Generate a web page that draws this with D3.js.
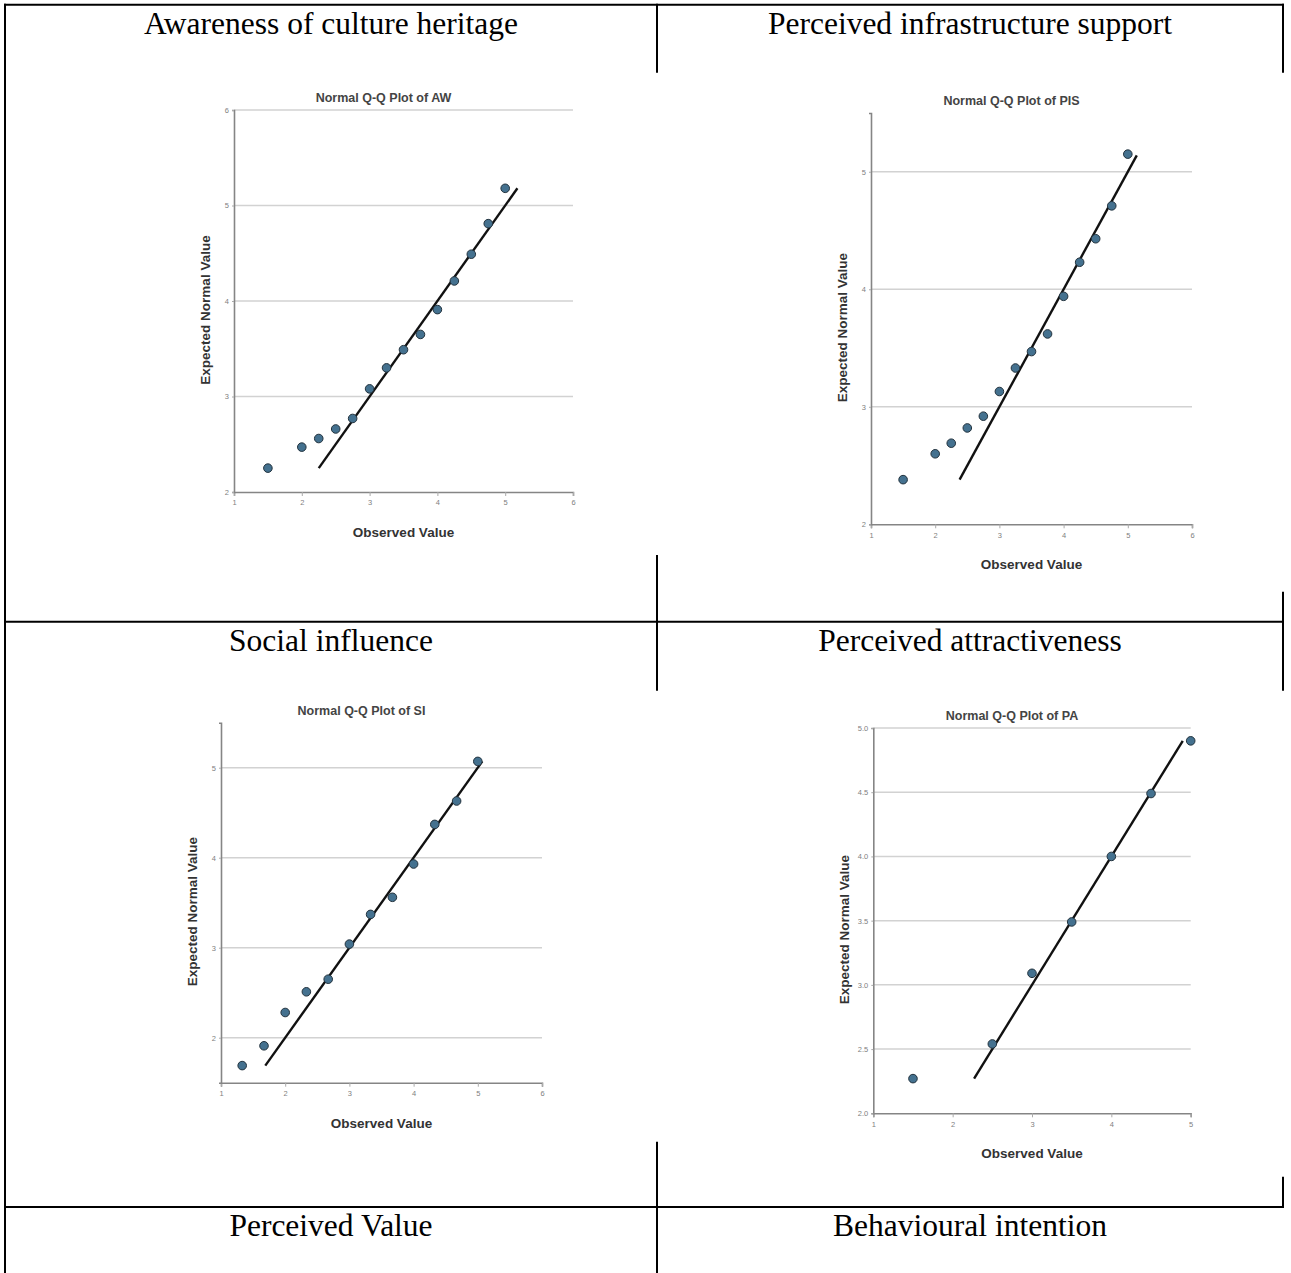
<!DOCTYPE html>
<html>
<head>
<meta charset="utf-8">
<script src="https://cdn.jsdelivr.net/npm/d3@7"></script>
<style>
  body { margin: 0; background: #fff; }
  svg { display: block; }
</style>
</head>
<body>
<svg id="page" width="1291" height="1273"></svg>
<script>
// cell titles of the table
var cellTitles = ["Awareness of culture heritage", "Perceived infrastructure support",
                  "Social influence", "Perceived attractiveness",
                  "Perceived Value", "Behavioural intention"];

// Q-Q data
var awObserved = [1.5, 2, 2.25, 2.5, 2.75, 3, 3.25, 3.5, 3.75, 4, 4.25, 4.5, 4.75, 5];
var awExpected = [2.25, 2.47, 2.56, 2.66, 2.77, 3.08, 3.30, 3.49, 3.65, 3.91, 4.21, 4.49, 4.81, 5.18];
var awLine = [2.25, 5.18];

var pisObserved = [1.5, 2, 2.25, 2.5, 2.75, 3, 3.25, 3.5, 3.75, 4, 4.25, 4.5, 4.75, 5];
var pisExpected = [2.38, 2.60, 2.69, 2.82, 2.92, 3.13, 3.33, 3.47, 3.62, 3.94, 4.23, 4.43, 4.71, 5.15];
var pisLine = [2.38, 5.14];

var siObserved = [1.33, 1.67, 2, 2.33, 2.67, 3, 3.33, 3.67, 4, 4.33, 4.67, 5];
var siExpected = [1.69, 1.91, 2.28, 2.51, 2.65, 3.04, 3.37, 3.56, 3.93, 4.37, 4.63, 5.07];
var siLine = [1.69, 5.07];

var paObserved = [1.5, 2.5, 3, 3.5, 4, 4.5, 5];
var paExpected = [2.27, 2.54, 3.09, 3.49, 4.00, 4.49, 4.90];
var paLine = [2.27, 4.90];

var awXTicks = [1, 2, 3, 4, 5, 6], awYTicks = [2, 3, 4, 5, 6];
var pisXTicks = [1, 2, 3, 4, 5, 6], pisYTicks = [2, 3, 4, 5];
var siXTicks = [1, 2, 3, 4, 5, 6], siYTicks = [2, 3, 4, 5];
var paXTicks = [1, 2, 3, 4, 5], paYTicks = [2, 2.5, 3, 3.5, 4, 4.5, 5];

var svg = d3.select('#page');

// table grid lines
var lineW = 2;
function hline(x1, x2, y) {
    svg.append("line").attr("x1", x1).attr("x2", x2).attr("y1", y).attr("y2", y)
        .attr("stroke", "#000").attr("stroke-width", lineW);
}
function vline(x, y1, y2) {
    svg.append("line").attr("x1", x).attr("x2", x).attr("y1", y1).attr("y2", y2)
        .attr("stroke", "#000").attr("stroke-width", lineW);
}
var L = 5, M = 657, R = 1283;
var rows = [4.7, 621.7, 1207];
rows.forEach(function(y) { hline(L - 1, R + 1, y); });
vline(L, 3.7, 1273);
vline(M, 3.7, 72.7);  vline(M, 555, 690.7);  vline(M, 1141.7, 1273);
vline(R, 3.7, 72.7);  vline(R, 591.7, 690.7); vline(R, 1176.7, 1207);

// titles in cells
cellTitles.forEach(function(t, i) {
    var col = i % 2, row = Math.floor(i / 2);
    var cx = col === 0 ? (L + M) / 2 : (M + R) / 2;
    svg.append("text")
        .attr("x", cx).attr("y", rows[row] + 29)
        .attr("text-anchor", "middle")
        .style("font-family", "'Liberation Serif', 'Times New Roman', serif")
        .style("font-size", "31.5px")
        .text(t);
});

// one SPSS style Q-Q plot
function qqPlot(opt) {
    var g = svg.append("g");
    var x = d3.scaleLinear().domain(opt.xDomain).range(opt.xRange);
    var y = d3.scaleLinear().domain(opt.yDomain).range(opt.yRange);
    var fmt = opt.fmt || d3.format("d");

    // gridlines
    g.selectAll(".grid").data(opt.yTicks.filter(function(d) { return d > opt.yDomain[0]; }))
        .enter().append("line")
        .attr("x1", opt.xRange[0]).attr("x2", opt.xRange[1])
        .attr("y1", function(d) { return y(d); }).attr("y2", function(d) { return y(d); })
        .attr("stroke", "#d2d2d2").attr("stroke-width", 1.5);

    var xAxis = d3.axisBottom(x).tickValues(opt.xTicks).tickFormat(d3.format("d")).tickSize(4).tickPadding(4);
    var yAxis = d3.axisLeft(y).tickValues(opt.yTicks).tickFormat(fmt).tickSize(2).tickPadding(3);

    var gx = g.append("g").attr("transform", "translate(0," + opt.yRange[0] + ")").call(xAxis);
    var gy = g.append("g").attr("transform", "translate(" + opt.xRange[0] + ",0)").call(yAxis);
    [gx, gy].forEach(function(a) {
        a.select(".domain").attr("stroke", "#858585").attr("stroke-width", 1.6);
        a.selectAll(".tick line").attr("stroke", "#aaa");
        a.selectAll("text").attr("fill", "#808080")
            .style("font-family", "'Liberation Sans', Arial, sans-serif").style("font-size", "7.5px");
    });

    // reference line
    g.append("line")
        .attr("x1", x(opt.line[0])).attr("y1", y(opt.line[0]))
        .attr("x2", x(opt.line[1])).attr("y2", y(opt.line[1]))
        .attr("stroke", "#111").attr("stroke-width", 2.4);

    // points
    g.selectAll(".pt").data(opt.obs).enter().append("circle")
        .attr("cx", function(d) { return x(d); })
        .attr("cy", function(d, i) { return y(opt.exp[i]); })
        .attr("r", 4.3)
        .attr("fill", "#44718f").attr("stroke", "#22323d").attr("stroke-width", 1);

    var midX = (opt.xRange[0] + opt.xRange[1]) / 2;
    var midY = (opt.yRange[0] + opt.yRange[1]) / 2;
    var font = "'Liberation Sans', Arial, sans-serif";

    g.append("text")
        .attr("x", midX - 20).attr("y", opt.yRange[1] - 8)
        .attr("text-anchor", "middle")
        .style("font-family", font).style("font-size", "12.5px").style("font-weight", "bold")
        .attr("fill", "#444")
        .text(opt.title);

    g.append("text")
        .attr("x", midX).attr("y", opt.yRange[0] + 45)
        .attr("text-anchor", "middle")
        .style("font-family", font).style("font-size", "13.5px").style("font-weight", "bold")
        .attr("fill", "#333")
        .text("Observed Value");

    g.append("text")
        .attr("transform", "translate(" + (opt.xRange[0] - 24) + "," + (midY + 9) + ") rotate(-90)")
        .attr("text-anchor", "middle")
        .style("font-family", font).style("font-size", "13.5px").style("font-weight", "bold")
        .attr("fill", "#333")
        .text("Expected Normal Value");
}

qqPlot({ title: "Normal Q-Q Plot of AW", obs: awObserved, exp: awExpected, line: awLine,
         xTicks: awXTicks, yTicks: awYTicks,
         xDomain: [1, 6], yDomain: [2, 6], xRange: [234, 573], yRange: [492, 110] });

qqPlot({ title: "Normal Q-Q Plot of PIS", obs: pisObserved, exp: pisExpected, line: pisLine,
         xTicks: pisXTicks, yTicks: pisYTicks,
         xDomain: [1, 6], yDomain: [2, 5.5], xRange: [871, 1192], yRange: [524.3, 113] });

qqPlot({ title: "Normal Q-Q Plot of SI", obs: siObserved, exp: siExpected, line: siLine,
         xTicks: siXTicks, yTicks: siYTicks,
         xDomain: [1, 6], yDomain: [1.5, 5.5], xRange: [221, 542], yRange: [1082.7, 722.7] });

qqPlot({ title: "Normal Q-Q Plot of PA", obs: paObserved, exp: paExpected, line: paLine,
         xTicks: paXTicks, yTicks: paYTicks, fmt: d3.format(".1f"),
         xDomain: [1, 5], yDomain: [2, 5], xRange: [873.3, 1190.7], yRange: [1113.3, 728] });
</script>
</body>
</html>
